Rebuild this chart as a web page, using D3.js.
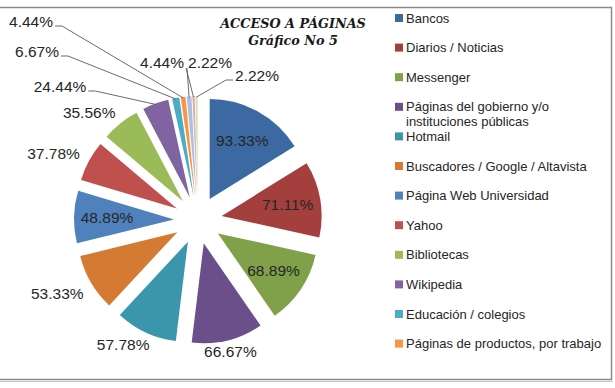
<!DOCTYPE html>
<html>
<head>
<meta charset="utf-8">
<script src="https://cdn.jsdelivr.net/npm/d3@7"></script>
<style>
  body { margin: 0; background: #fff; }
  svg { display: block; }
</style>
</head>
<body>
<svg id="chart" width="615" height="388"></svg>
<script>
// data
const categories = ["Bancos", "Diarios / Noticias", "Messenger",
    "Páginas del gobierno y/o instituciones públicas", "Hotmail",
    "Buscadores / Google / Altavista", "Página Web Universidad", "Yahoo",
    "Bibliotecas", "Wikipedia", "Educación / colegios",
    "Páginas de productos, por trabajo", "Otros 1", "Otros 2", "Otros 3"];
const values = [93.33, 71.11, 68.89, 66.67, 57.78, 53.33, 48.89, 37.78,
    35.56, 24.44, 6.67, 4.44, 4.44, 2.22, 2.22];
const titleLines = ["ACCESO A PÁGINAS", "Gráfico No 5"];
const legendCount = 12; // the legend box cuts off the last three

const colors = ["#3d69a3", "#a3403d", "#80a04a", "#6a4f8b", "#3b95ad", "#d57a33",
    "#4f81bd", "#c0504d", "#9bbb59", "#8064a2", "#4bacc6", "#f79646",
    "#adbfe0", "#deb0af", "#d5e2bb"];

// label placement: in = inside slice, out = next to slice, lead = with leader line
const labelMode = ["in", "in", "in", "out", "out", "out", "in", "out", "out",
    "lead", "lead", "lead", "lead", "lead", "lead"];
const outNudge = { 3: [-5, -2], 4: [-9, -1], 5: [-6, 4], 7: [-7, -1], 8: [-11, 0] };
const leadPos = {
    9:  { x: 60,  y: 86,  side: "right" },
    10: { x: 37,  y: 51,  side: "right" },
    11: { x: 31,  y: 21,  side: "right" },
    12: { x: 162, y: 62,  side: "br" },
    13: { x: 210, y: 62,  side: "bl" },
    14: { x: 257, y: 75,  side: "left" }
};

const svg = d3.select("#chart");
const cx = 198, cy = 220, r = 100, explode = 24;
const labelFont = "'Liberation Sans', Arial, sans-serif";

// chart frame
svg.append("rect")
    .attr("x", -5).attr("y", 7.5)
    .attr("width", 616.5).attr("height", 372)
    .attr("fill", "#fff")
    .attr("stroke", "#8a8a8a")
    .attr("stroke-width", 1.5);
svg.append("line")
    .attr("x1", 0).attr("x2", 613).attr("y1", 381.5).attr("y2", 381.5)
    .attr("stroke", "#c8c8c8").attr("stroke-width", 1);

// title
svg.selectAll(".title")
    .data(titleLines)
    .enter().append("text")
    .attr("class", "title")
    .attr("x", 293)
    .attr("y", (d, i) => 28 + i * 17)
    .attr("text-anchor", "middle")
    .attr("font-family", "'DejaVu Serif', serif")
    .attr("font-style", "italic")
    .attr("font-weight", "bold")
    .attr("font-size", 12.8)
    .attr("fill", "#1a1a1a")
    .text(d => d);

// pie
const pieData = d3.pie().sort(null).value(d => d)(values);
const arc = d3.arc().innerRadius(0).outerRadius(r);
const inArc = d3.arc().innerRadius(r * 0.67).outerRadius(r * 0.67);
const mid = d => (d.startAngle + d.endAngle) / 2;
const shift = d => [Math.sin(mid(d)) * explode, -Math.cos(mid(d)) * explode];

const g = svg.append("g").attr("transform", `translate(${cx},${cy})`);

g.selectAll(".slice")
    .data(pieData)
    .enter().append("path")
    .attr("class", "slice")
    .attr("transform", d => `translate(${shift(d)})`)
    .attr("d", arc)
    .attr("fill", (d, i) => colors[i]);

// labels
const fmt = v => v.toFixed(2) + "%";
const fontSize = 15.5;

pieData.forEach(function(d, i) {
    const mode = labelMode[i];
    const a = mid(d);
    const [sx, sy] = shift(d);
    const t = g.append("text")
        .attr("font-family", labelFont)
        .attr("font-size", fontSize)
        .attr("fill", "#262626")
        .attr("text-anchor", "middle")
        .attr("dominant-baseline", "central")
        .text(fmt(d.value));
    const w = t.node().getComputedTextLength();
    const h = 16;

    if (mode === "in") {
        const c = inArc.centroid(d);
        t.attr("x", c[0] + sx).attr("y", c[1] + sy);
    } else if (mode === "out") {
        const D = explode + r + 6;
        const n = outNudge[i] || [0, 0];
        const x = Math.sin(a) * D + Math.sin(a) * w / 2 + n[0];
        const y = -Math.cos(a) * D - Math.cos(a) * h / 2 + n[1];
        t.attr("x", x).attr("y", y);
    } else {
        const p = leadPos[i];
        const lx = p.x - cx, ly = p.y - cy;
        t.attr("x", lx).attr("y", ly);
        // end of the leader: middle of the slice's outer edge
        const ex = Math.sin(a) * (explode + r - 1);
        const ey = -Math.cos(a) * (explode + r - 1);
        let pts;
        if (p.side === "right") {
            const s = [lx + w / 2 + 2, ly + 5];
            pts = [s, [s[0] + 7, s[1]], [ex, ey]];
        } else if (p.side === "left") {
            const s = [lx - w / 2 - 2, ly + 5];
            pts = [s, [s[0] - 7, s[1]], [ex, ey]];
        } else if (p.side === "br") {
            pts = [[lx + w / 2 + 3, ly + 6], [ex, ey]];
        } else {
            pts = [[lx - w / 2 - 2, ly + 6], [ex, ey]];
        }
        g.append("polyline")
            .attr("points", pts.map(q => q.join(",")).join(" "))
            .attr("fill", "none")
            .attr("stroke", "#5a5a5a")
            .attr("stroke-width", 0.9);
    }
});

// legend
const legend = svg.append("g").attr("transform", "translate(395,18)");
const rowGap = 29.6;
const maxW = 200;

const rows = legend.selectAll(".item")
    .data(categories.slice(0, legendCount))
    .enter().append("g")
    .attr("class", "item")
    .attr("transform", (d, i) => `translate(0,${i * rowGap})`);

rows.append("rect")
    .attr("x", 0).attr("y", -4)
    .attr("width", 8).attr("height", 8)
    .attr("fill", (d, i) => colors[i]);

rows.each(function(name) {
    const txt = d3.select(this).append("text")
        .attr("x", 11)
        .attr("font-family", labelFont)
        .attr("font-size", 13)
        .attr("fill", "#262626");
    // simple word wrap
    const words = name.split(" ");
    let line = [];
    let lineNo = 0;
    let tspan = txt.append("tspan").attr("x", 11).attr("y", 0).attr("dy", "0.35em");
    words.forEach(function(wd) {
        line.push(wd);
        tspan.text(line.join(" "));
        if (tspan.node().getComputedTextLength() > maxW && line.length > 1) {
            line.pop();
            tspan.text(line.join(" "));
            line = [wd];
            lineNo++;
            tspan = txt.append("tspan").attr("x", 11).attr("y", lineNo * 15)
                .attr("dy", "0.35em").text(wd);
        }
    });
});
</script>
</body>
</html>
